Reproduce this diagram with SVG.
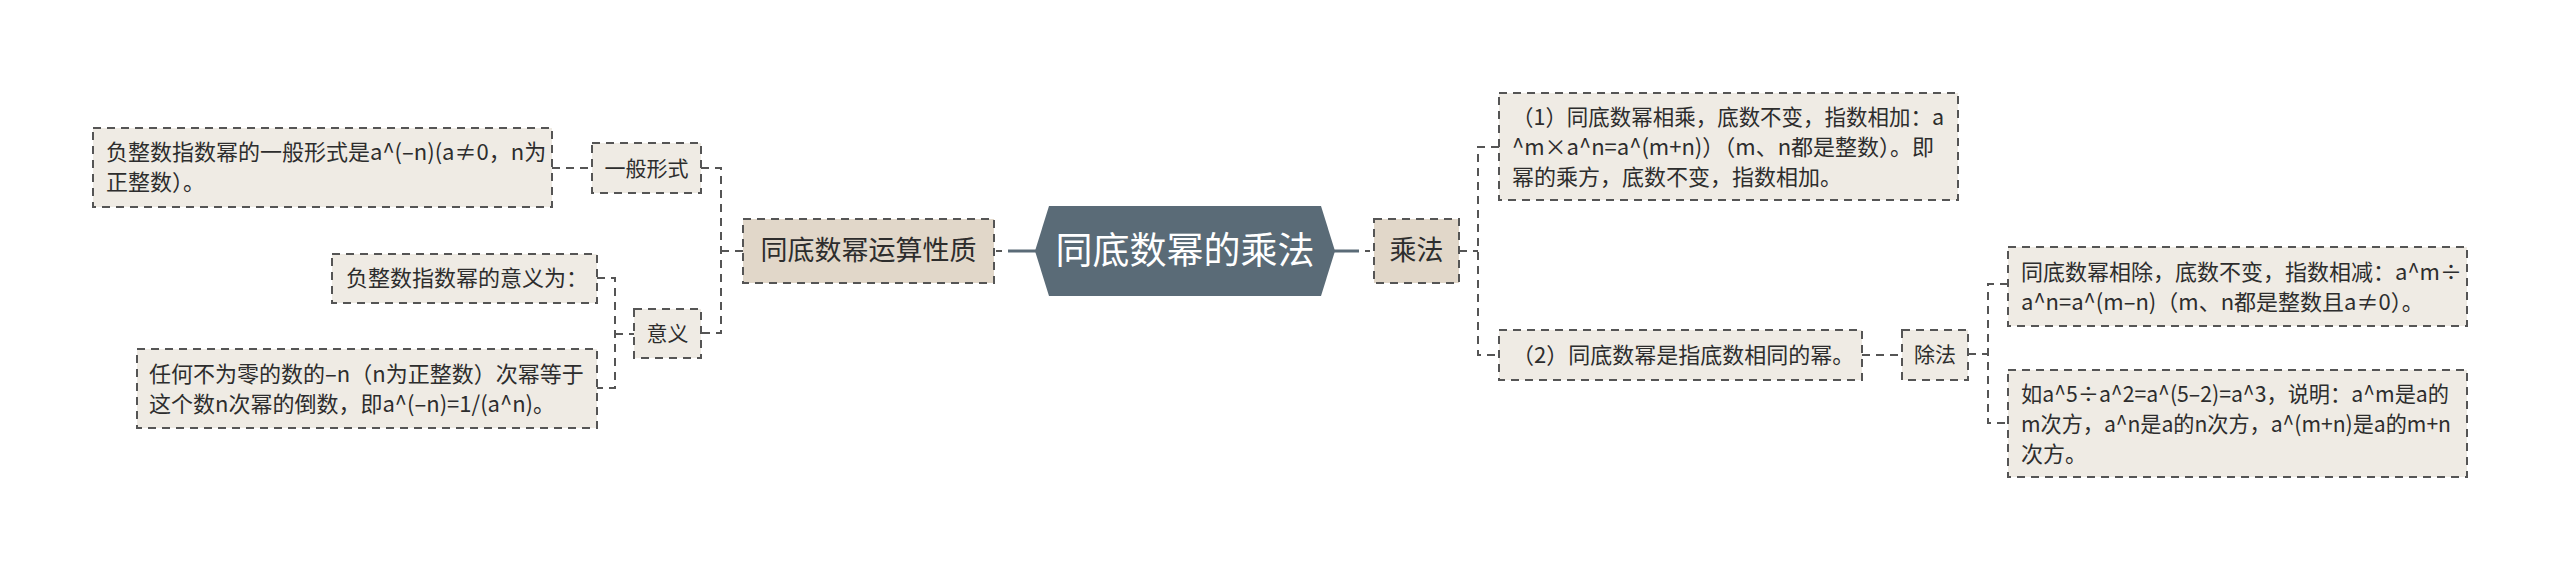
<svg xmlns="http://www.w3.org/2000/svg" width="2560" height="571" viewBox="0 0 2560 571">
<style>
.leaf{fill:#efebe4;stroke:#555;stroke-width:2;stroke-dasharray:8 6}
.mid{fill:#e1d7c9;stroke:#555;stroke-width:2;stroke-dasharray:8 6}
.t{font-family:"Noto Sans CJK SC","Noto Sans",sans-serif;font-size:22px;fill:#2d2d2d}
.tm{font-family:"Noto Sans CJK SC","Noto Sans",sans-serif;font-size:27px;fill:#2d2d2d;text-anchor:middle}
.ts{font-family:"Noto Sans CJK SC","Noto Sans",sans-serif;font-size:21px;fill:#2d2d2d;text-anchor:middle}
.c{fill:none;stroke:#555;stroke-width:2;stroke-dasharray:8 6}
.cs{fill:none;stroke:#5a6b77;stroke-width:3}
</style>
<rect width="2560" height="571" fill="#ffffff"/>
<g id="connectors">
<path class="c" d="M552,168 H592"/>
<path class="c" d="M701,168 H721 V333 H701"/>
<path class="c" d="M721,251 H743"/>
<path class="c" d="M597,278 H615 V388 H597"/>
<path class="c" d="M615,334 H634"/>
<path class="cs" d="M1008,251 H1036"/>
<path class="c" d="M996,251 H1002"/>
<path class="cs" d="M1333,251 H1359"/>
<path class="c" d="M1365,251 H1370"/>
<path class="c" d="M1459,251 H1478"/>
<path class="c" d="M1499,147 H1478 V355 H1499"/>
<path class="c" d="M1862,355 H1902"/>
<path class="c" d="M1968,354 H1988"/>
<path class="c" d="M2008,284 H1988 V423 H2008"/>
</g>
<g id="center">
<polygon points="1035,251 1049,206 1321,206 1335,251 1321,296 1049,296" fill="#5a6b77"/>
<text x="1185" y="264" font-family="Noto Sans CJK SC, sans-serif" font-size="37" fill="#ffffff" text-anchor="middle">同底数幂的乘法</text>
</g>
<g id="node-yunsuan">
<rect class="mid" x="743" y="219" width="251" height="64"/>
<text class="tm" x="868.5" y="260">同底数幂运算性质</text>
</g>
<g id="node-yiban">
<rect class="leaf" x="592" y="143" width="109" height="50"/>
<text class="ts" x="646.5" y="176">一般形式</text>
</g>
<g id="node-yiban-text">
<rect class="leaf" x="93" y="128" width="459" height="79"/>
<text class="t" x="106" y="160">负整数指数幂的一般形式是a^(–n)(a≠0，n为</text>
<text class="t" x="106" y="190">正整数）。</text>
</g>
<g id="node-yiyi">
<rect class="leaf" x="634" y="309" width="67" height="49"/>
<text class="ts" x="667.5" y="341">意义</text>
</g>
<g id="node-yiyi-1">
<rect class="leaf" x="332" y="254" width="265" height="49"/>
<text class="t" x="346" y="286">负整数指数幂的意义为：</text>
</g>
<g id="node-yiyi-2">
<rect class="leaf" x="137" y="349" width="460" height="79"/>
<text class="t" x="149" y="382">任何不为零的数的–n（n为正整数）次幂等于</text>
<text class="t" x="149" y="412">这个数n次幂的倒数，即a^(–n)=1/(a^n)。</text>
</g>
<g id="node-chengfa">
<rect class="mid" x="1374" y="219" width="85" height="64"/>
<text class="tm" x="1416.5" y="260">乘法</text>
</g>
<g id="node-rule1">
<rect class="leaf" x="1499" y="93" width="459" height="107"/>
<text class="t" x="1512" y="125" textLength="432" lengthAdjust="spacingAndGlyphs">（1）同底数幂相乘，底数不变，指数相加：a</text>
<text class="t" x="1512" y="155">^m×a^n=a^(m+n)）（m、n都是整数）。即</text>
<text class="t" x="1512" y="185">幂的乘方，底数不变，指数相加。</text>
</g>
<g id="node-rule2">
<rect class="leaf" x="1499" y="330" width="363" height="50"/>
<text class="t" x="1512" y="363">（2）同底数幂是指底数相同的幂。</text>
</g>
<g id="node-chufa">
<rect class="leaf" x="1902" y="330" width="66" height="50"/>
<text class="ts" x="1935" y="362">除法</text>
</g>
<g id="node-chufa-1">
<rect class="leaf" x="2008" y="247" width="459" height="79"/>
<text class="t" x="2021" y="280">同底数幂相除，底数不变，指数相减：a^m÷</text>
<text class="t" x="2021" y="310">a^n=a^(m–n)（m、n都是整数且a≠0）。</text>
</g>
<g id="node-chufa-2">
<rect class="leaf" x="2008" y="370" width="459" height="107"/>
<text class="t" x="2021" y="402" textLength="428" lengthAdjust="spacingAndGlyphs">如a^5÷a^2=a^(5–2)=a^3，说明：a^m是a的</text>
<text class="t" x="2021" y="432" textLength="430" lengthAdjust="spacingAndGlyphs">m次方，a^n是a的n次方，a^(m+n)是a的m+n</text>
<text class="t" x="2021" y="462">次方。</text>
</g>
</svg>
